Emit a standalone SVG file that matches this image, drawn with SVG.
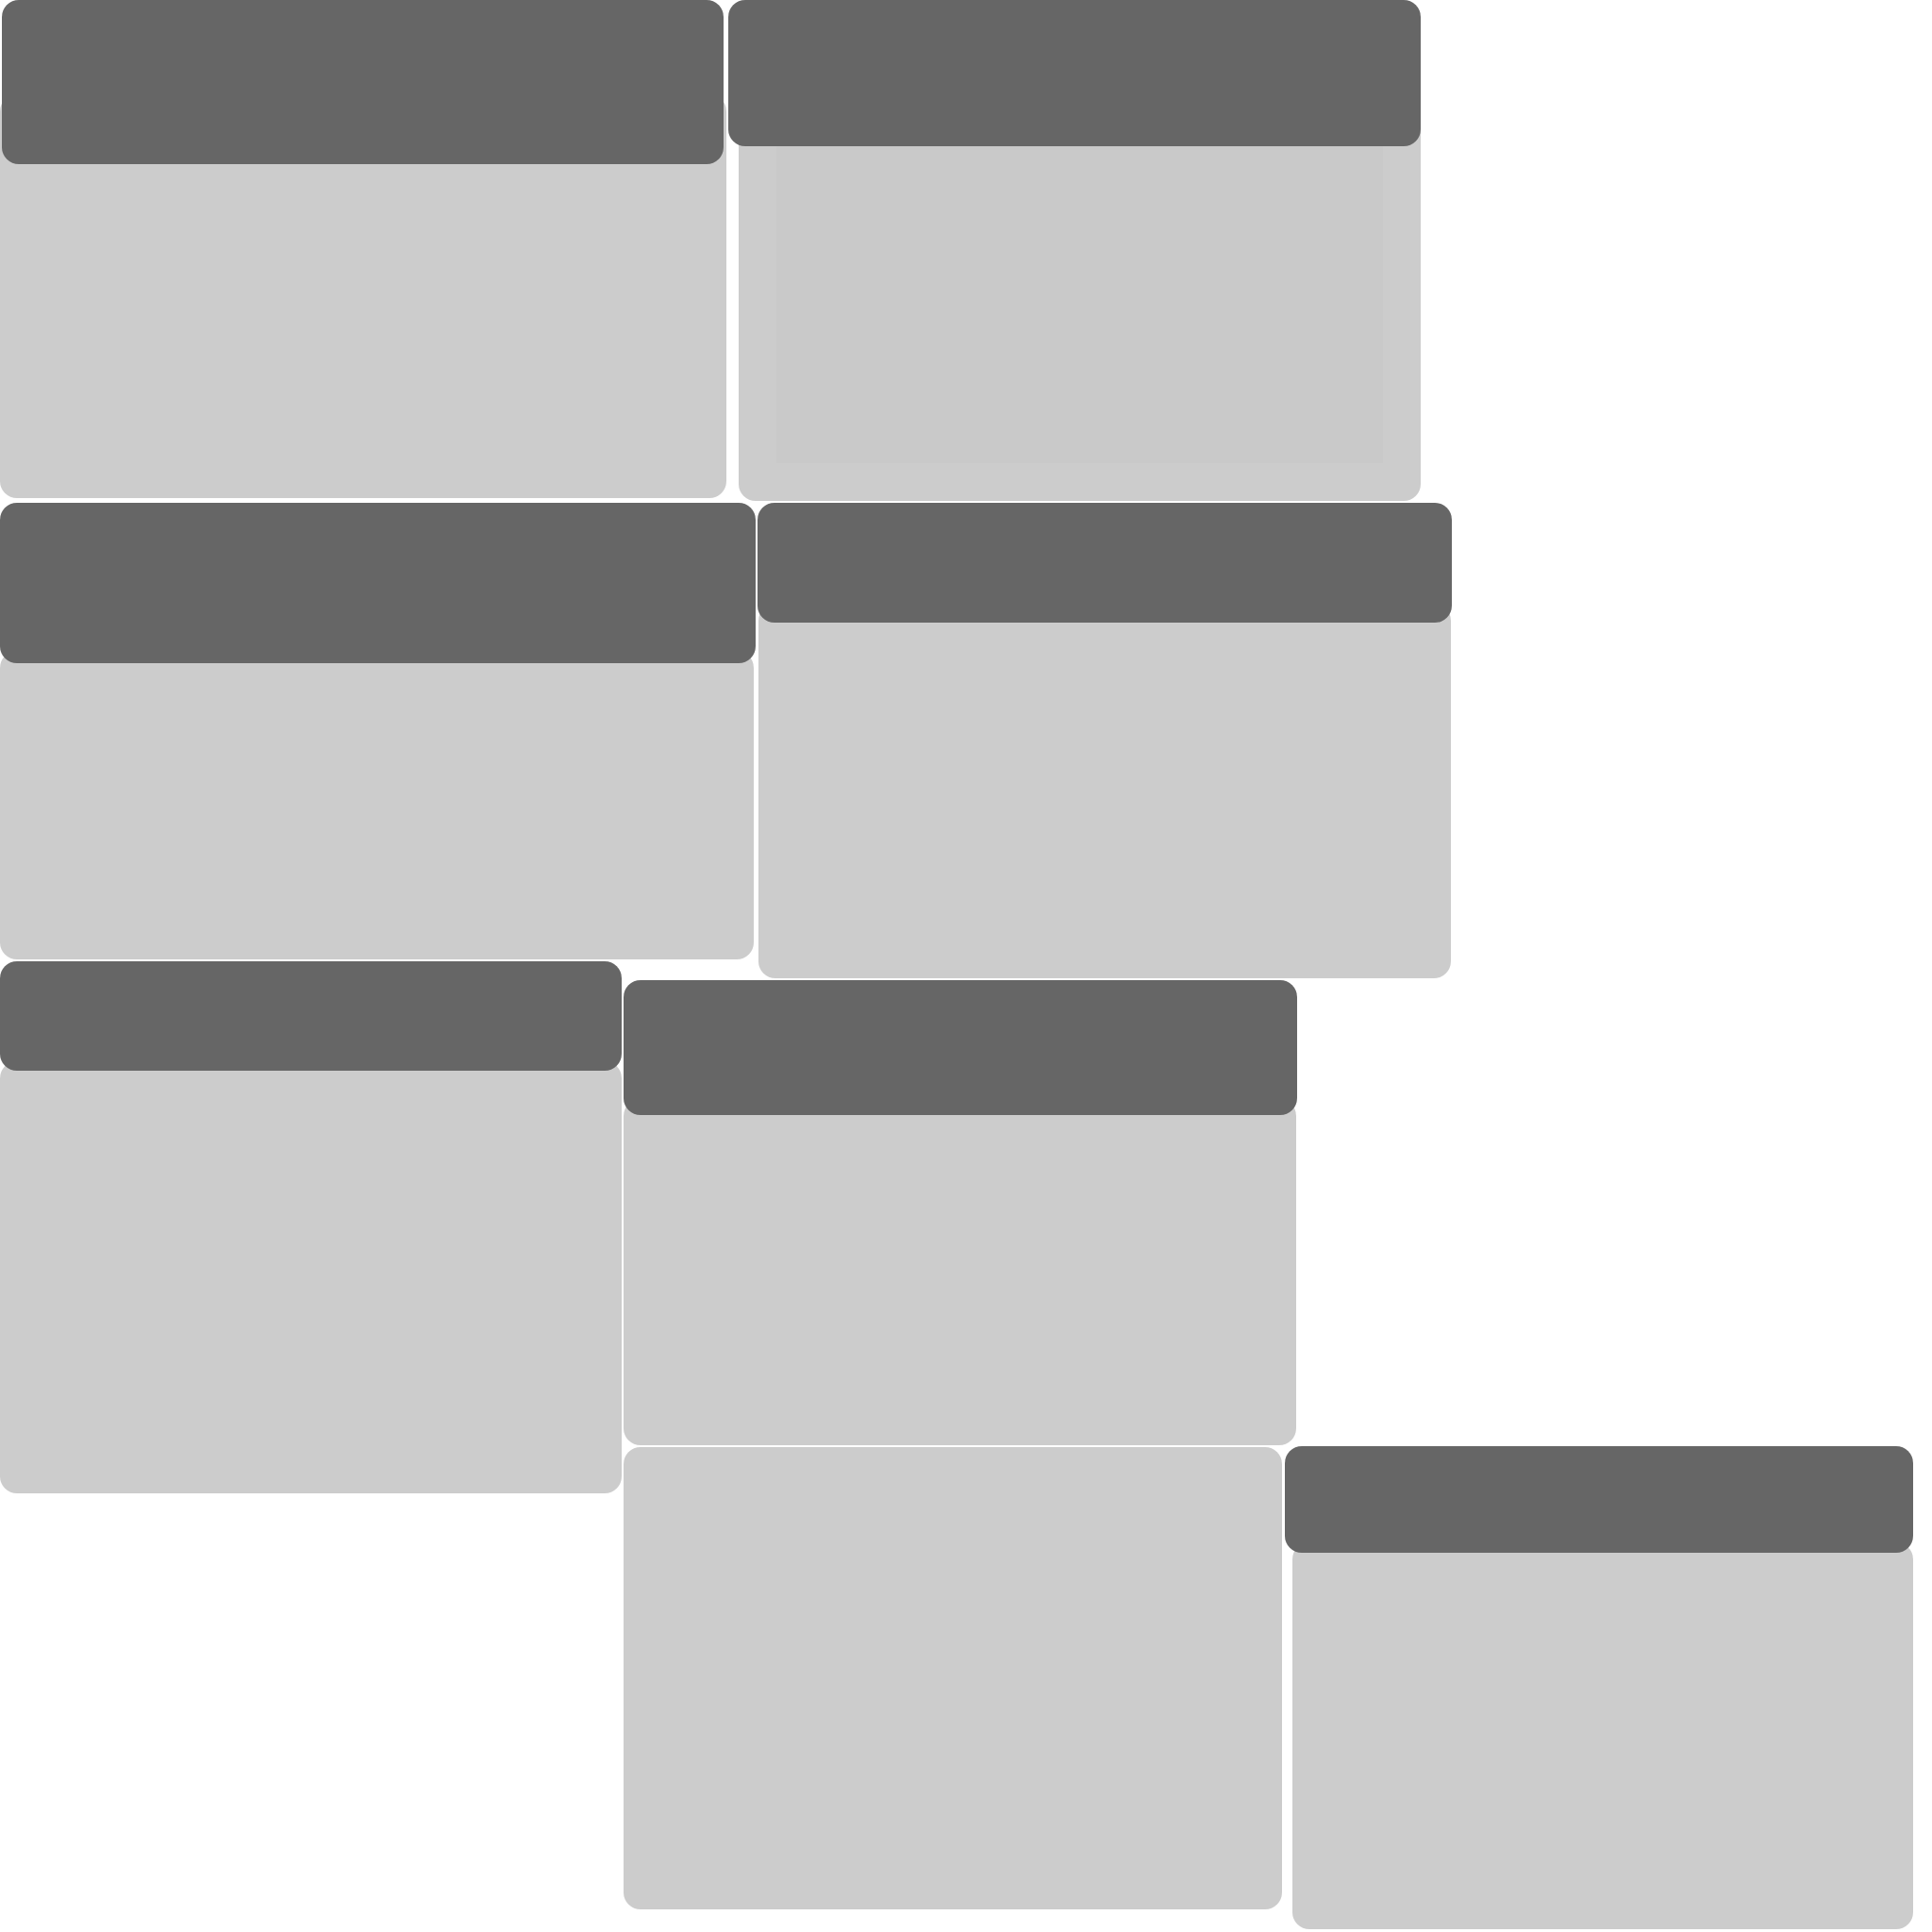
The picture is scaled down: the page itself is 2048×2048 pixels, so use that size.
<svg xmlns="http://www.w3.org/2000/svg" width="2048" height="2048" viewBox="0 0 2048 2048">
<style>
.body{fill:#cccccc}
.head{fill:#666666}
.inner{fill:#c9c9c9}
</style>
<rect width="2048" height="2048" fill="#ffffff"/>
<g id="node1">
<rect class="body" x="0" y="100" width="770" height="428" rx="18"/>
<rect class="head" x="2" y="0" width="765" height="174" rx="18"/>
</g>
<g id="node2">
<rect class="body" x="783" y="100" width="723" height="431" rx="18"/>
<rect class="inner" x="823" y="155" width="643" height="336"/>
<rect class="head" x="772" y="0" width="734" height="155" rx="18"/>
</g>
<g id="node3">
<rect class="body" x="0" y="690" width="799" height="327" rx="18"/>
<rect class="head" x="0" y="533" width="801" height="170" rx="18"/>
</g>
<g id="node4">
<rect class="body" x="804" y="640" width="734" height="397" rx="18"/>
<rect class="head" x="803" y="533" width="736" height="127" rx="18"/>
</g>
<g id="node5">
<rect class="body" x="0" y="1125" width="659" height="458" rx="18"/>
<rect class="head" x="0" y="1019" width="659" height="116" rx="18"/>
</g>
<g id="node6">
<rect class="body" x="661" y="1165" width="713" height="367" rx="18"/>
<rect class="head" x="661" y="1039" width="714" height="143" rx="18"/>
</g>
<g id="node7">
<rect class="body" x="661" y="1534" width="698" height="490" rx="18"/>
</g>
<g id="node8">
<rect class="body" x="1370" y="1635" width="658" height="410" rx="18"/>
<rect class="head" x="1362" y="1533" width="666" height="113" rx="18"/>
</g>
<g id="connectors"></g>
</svg>
